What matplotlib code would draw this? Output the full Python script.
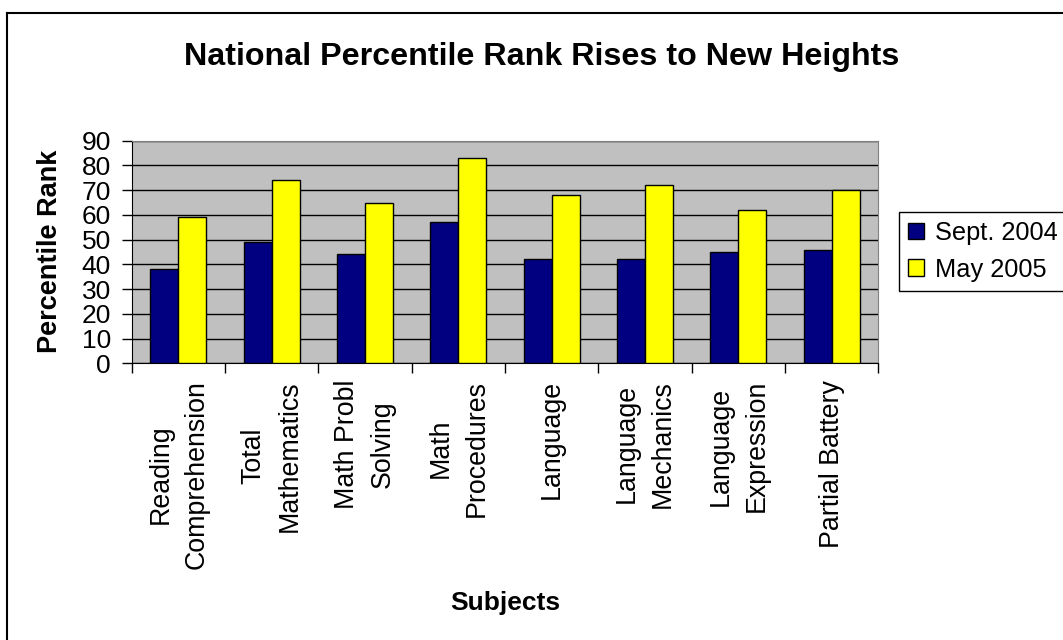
import numpy as np
import matplotlib
matplotlib.use("Agg")
import matplotlib.pyplot as plt
from matplotlib.lines import Line2D

plt.rcParams['font.family'] = ['Liberation Sans', 'DejaVu Sans']

subjects = ['Reading\nComprehension', 'Total\nMathematics', 'Math Probl\nSolving',
            'Math\nProcedures', 'Language', 'Language\nMechanics',
            'Language\nExpression', 'Partial Battery']
sept_2004 = [38, 49, 44, 57, 42, 42, 45, 46]
may_2005 = [59, 74, 65, 83, 68, 72, 62, 70]
series_names = ['Sept. 2004', 'May 2005']

W, H = 1063, 640
fig = plt.figure(figsize=(W / 100, H / 100), dpi=100)
ax = fig.add_axes([131.7 / W, 1 - 363.3 / H, (878.3 - 131.7) / W, (363.3 - 140.7) / H])

x = np.arange(len(subjects))
bw = 0.3
ax.bar(x - bw / 2, sept_2004, bw, color='#000080', edgecolor='black', linewidth=1,
       label=series_names[0], zorder=3)
ax.bar(x + bw / 2, may_2005, bw, color='#FFFF00', edgecolor='black', linewidth=1,
       label=series_names[1], zorder=3)

ax.set_facecolor('#C0C0C0')
ax.set_xlim(-0.5, len(subjects) - 0.5)
ax.set_ylim(0, 90)
ax.set_yticks(range(0, 91, 10))
ax.yaxis.grid(True, color='black', linewidth=1, zorder=1)
ax.set_axisbelow(True)
ax.tick_params(axis='y', labelsize=19, length=7, width=1, direction='out', pad=8)

# category labels sit between the boundary ticks
ax.set_xticks(np.arange(-0.5, len(subjects)), minor=False)
ax.set_xticklabels([''] * (len(subjects) + 1))
ax.set_xticks(x, minor=True)
ax.set_xticklabels(subjects, minor=True, rotation=90, ha='center', va='top',
                   multialignment='center', fontsize=19.3, linespacing=1.5)
ax.tick_params(axis='x', which='major', length=7, width=1, direction='out')
ax.tick_params(axis='x', which='minor', length=0, pad=12)

for s in ['top', 'right']:
    ax.spines[s].set_color('#808080')
for s in ['left', 'bottom']:
    ax.spines[s].set_color('black')

fig.text(542 / W, 1 - 57 / H, 'National Percentile Rank Rises to New Heights',
         ha='center', va='center', fontsize=23.2, fontweight='bold')
fig.text(50 / W, 1 - 251 / H, 'Percentile Rank', ha='center', va='center',
         rotation=90, fontsize=19.5, fontweight='bold')
fig.text(505 / W, 1 - 603 / H, 'Subjects', ha='center', va='center',
         fontsize=19, fontweight='bold')

leg = ax.legend(loc='upper left', bbox_to_anchor=(899 / W, 1 - 212 / H),
                bbox_transform=fig.transFigure, fontsize=18.3, frameon=True,
                fancybox=False, edgecolor='black', framealpha=1, borderaxespad=0,
                handlelength=0.62, handleheight=0.62, handletextpad=0.45,
                labelspacing=0.5, borderpad=0.35)
leg.get_frame().set_linewidth(1)

# outer chart border
fig.add_artist(Line2D([7 / W, 7 / W], [0, 1 - 13 / H], color='black', linewidth=1.5,
                      transform=fig.transFigure))
fig.add_artist(Line2D([7 / W, 1], [1 - 13 / H, 1 - 13 / H], color='black', linewidth=1.5,
                      transform=fig.transFigure))

fig.savefig('out.png', dpi=100)
